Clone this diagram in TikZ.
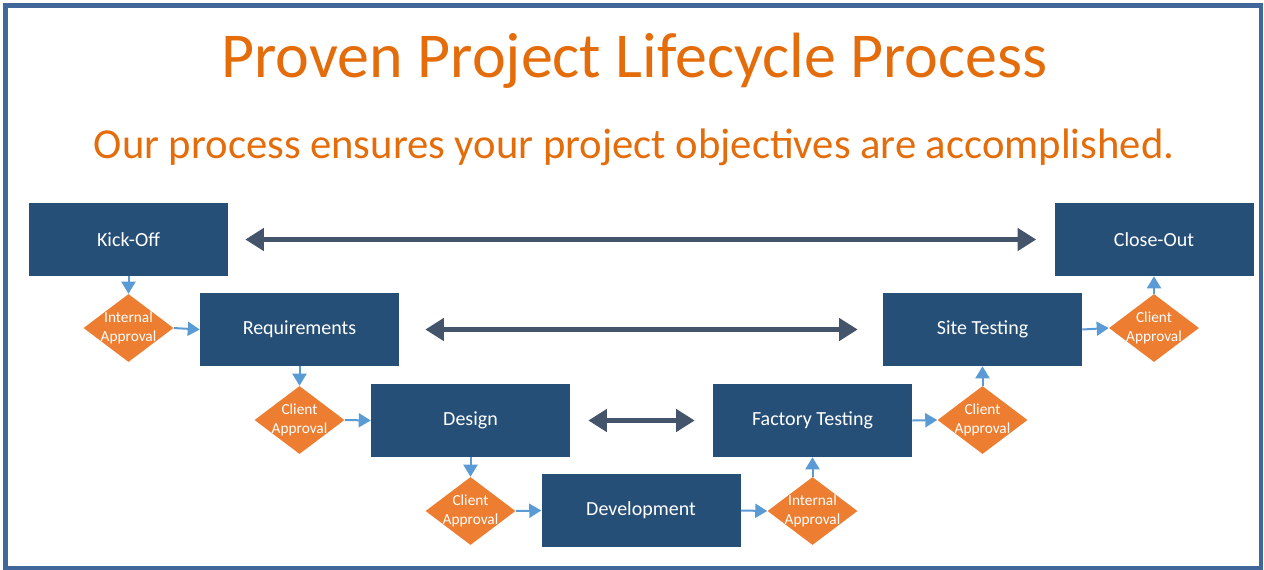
\documentclass[tikz,border=0pt]{standalone}
\usepackage{fontspec}
\setmainfont{Carlito}
\usetikzlibrary{arrows.meta,shapes.geometric}
\definecolor{boxblue}{HTML}{264F78}
\definecolor{orng}{HTML}{ED7D31}
\definecolor{ttl}{HTML}{E46C0A}
\definecolor{lblue}{HTML}{5B9BD5}
\definecolor{dgray}{HTML}{44546A}
\definecolor{framec}{HTML}{41679A}
\begin{document}
\begin{tikzpicture}[x=0.75pt,y=-0.75pt,
 stage/.style={rectangle,fill=boxblue,minimum width=149.25pt,minimum height=54.75pt,inner sep=0pt,text=white,font=\fontsize{15}{18}\selectfont},
 gate/.style={diamond,fill=orng,minimum width=67.5pt,minimum height=51pt,inner sep=0pt},
 gtext/.style={text=white,font=\fontsize{11.5}{14.25}\selectfont,align=center,inner sep=0pt},
 flow/.style={lblue,line width=1.5pt,-{Triangle[width=10.5pt,length=9pt]}},
 link/.style={dgray,line width=3.75pt,{Triangle[width=16.5pt,length=14pt]}-{Triangle[width=16.5pt,length=14pt]}}]
\useasboundingbox (0,0) rectangle (1264,569);
\draw[framec,line width=3.6pt] (5.5,5.5) rectangle (1261,568.5);

\node[text=ttl,font=\fontsize{48}{52}\selectfont,anchor=base] (title) at (634.5,77.5) {Proven Project Lifecycle Process};
\node[text=ttl,font=\fontsize{32}{36}\selectfont,anchor=base] (sub) at (634,158.5) {Our process ensures your project objectives are accomplished.};

\node[stage] (ko) at (128.5,239.5) {Kick-Off};
\node[stage] (req) at (299.5,329.5) {Requirements};
\node[stage] (des) at (470.5,420.5) {Design};
\node[stage] (dev) at (641,510.5) {Development};
\node[stage] (ft) at (812.5,420.5) {Factory Testing};
\node[stage] (st) at (982.5,329.5) {Site Testing};
\node[stage] (co) at (1154,239.5) {Close-Out};

\node[gate] (g1) at (128.5,328) {};
\node[gate] (g2) at (299.5,420) {};
\node[gate] (g3) at (470.5,511) {};
\node[gate] (g4) at (812.5,511) {};
\node[gate] (g5) at (982.5,420) {};
\node[gate] (g6) at (1154,328) {};
\node[gtext] (g1t) at (g1) {Internal\\Approval};
\node[gtext] (g2t) at (g2) {Client\\Approval};
\node[gtext] (g3t) at (g3) {Client\\Approval};
\node[gtext] (g4t) at (g4) {Internal\\Approval};
\node[gtext] (g5t) at (g5) {Client\\Approval};
\node[gtext] (g6t) at (g6) {Client\\Approval};

\draw[flow] (ko.south) -- (g1.north);
\draw[flow] (g1.east) -- (req.west);
\draw[flow] (req.south) -- (g2.north);
\draw[flow] (g2.east) -- (des.west);
\draw[flow] (des.south) -- (g3.north);
\draw[flow] (g3.east) -- (dev.west);
\draw[flow] (dev.east) -- (g4.west);
\draw[flow] (g4.north) -- (ft.south);
\draw[flow] (ft.east) -- (g5.west);
\draw[flow] (g5.north) -- (st.south);
\draw[flow] (st.east) -- (g6.west);
\draw[flow] (g6.north) -- (co.south);

\draw[link,shorten <=12.75pt,shorten >=13.5pt] (ko.east) -- (co.west);
\draw[link,shorten <=19.5pt,shorten >=18.75pt] (req.east) -- (st.west);
\draw[link,shorten <=13.5pt,shorten >=13.5pt] (des.east) -- (ft.west);
\end{tikzpicture}
\end{document}
